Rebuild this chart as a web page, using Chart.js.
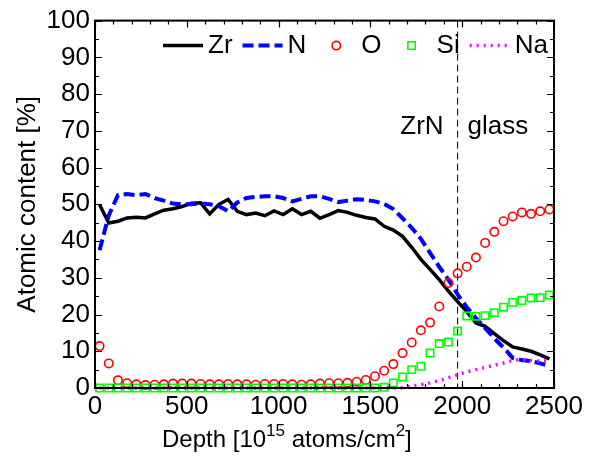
<!DOCTYPE html>
<html>
<head>
<meta charset="utf-8">
<script src="https://cdn.jsdelivr.net/npm/chart.js@4.4.0/dist/chart.umd.min.js"></script>
<style>
  html, body { margin: 0; padding: 0; background: #fff; }
  #wrap { width: 591px; height: 457px; }
</style>
</head>
<body>
<div id="wrap"><canvas id="chart" width="591" height="457"></canvas></div>
<script>
// depth in 1e15 atoms/cm2
const depth = [25, 75, 125, 175, 225, 275, 325, 375, 425, 475,
  525, 575, 625, 675, 725, 775, 825, 875, 925, 975,
  1025, 1075, 1125, 1175, 1225, 1275, 1325, 1375, 1425, 1475,
  1525, 1575, 1625, 1675, 1725, 1775, 1825, 1875, 1925, 1975,
  2025, 2075, 2125, 2175, 2225, 2275, 2325, 2375, 2425, 2475];

const zr = [49.9, 44.9, 45.4, 46.3, 46.5, 46.3, 47.4, 48.4, 48.8, 49.4,
  50.3, 50.4, 47.4, 50.0, 51.3, 48.1, 47.2, 47.6, 46.9, 48.2,
  47.2, 48.8, 47.2, 48.1, 46.2, 47.2, 48.3, 47.8, 47.0, 46.4,
  46.0, 44.0, 43.0, 41.3, 38.3, 35.0, 32.3, 29.5, 26.4, 23.5,
  20.8, 17.7, 16.8, 14.8, 12.9, 11.2, 10.6, 10.0, 9.0, 7.9];

const n = [37.5, 47.0, 52.5, 52.8, 52.5, 52.8, 51.7, 51.0, 50.2, 50.0,
  50.0, 50.2, 50.0, 49.5, 48.1, 50.5, 51.7, 52.0, 52.2, 52.2,
  51.7, 50.8, 51.5, 52.2, 52.2, 51.5, 50.6, 51.0, 51.4, 51.2,
  50.8, 50.1, 48.7, 46.2, 43.6, 40.6, 36.8, 33.0, 29.5, 25.5,
  22.0, 19.0, 16.3, 13.5, 11.0, 8.2, 7.6, 7.3, 6.7, 6.0];

const o = [11.4, 6.7, 2.1, 1.3, 1.0, 0.8, 0.9, 1.0, 1.2, 1.2,
  1.2, 1.1, 1.0, 1.0, 1.1, 1.0, 1.0, 0.9, 1.1, 1.1,
  1.1, 1.0, 0.9, 1.0, 1.2, 1.3, 1.3, 1.4, 1.7, 2.2,
  3.2, 4.7, 6.5, 9.5, 12.4, 15.7, 17.8, 22.2, 28.6, 31.2,
  33.0, 35.5, 39.5, 42.5, 45.4, 46.7, 47.8, 47.4, 48.1, 48.6];

const si = [0, 0, 0, 0, 0, 0, 0, 0, 0, 0,
  0, 0, 0, 0, 0, 0, 0, 0, 0, 0,
  0, 0, 0, 0, 0, 0, 0, 0, 0, 0,
  0, 0.2, 1.4, 3.0, 5.0, 5.9, 9.5, 12.1, 12.5, 15.5,
  19.6, 19.5, 19.7, 20.5, 22.0, 23.3, 23.8, 24.5, 24.6, 25.3];

const na = [0, 0, 0, 0, 0, 0, 0, 0, 0, 0,
  0, 0, 0, 0, 0, 0, 0, 0, 0, 0,
  0, 0, 0, 0, 0, 0, 0, 0, 0, 0,
  0, 0, 0, 0.1, 0.5, 0.9, 1.4, 2.0, 2.8, 3.6,
  4.4, 5.0, 5.6, 6.2, 6.8, 7.5, 7.8, 7.5, 7.3, 7.5];

const xTickVals = [0, 500, 1000, 1500, 2000, 2500];
const yTickVals = [0, 10, 20, 30, 40, 50, 60, 70, 80, 90, 100];
const interfaceDepth = 1975;

const FONT = "'Liberation Sans', Arial, Helvetica, sans-serif";
const pts = (arr) => arr.map((v, i) => ({ x: depth[i], y: v }));

const lineSet = (label, data, color, width, dash, order) => ({
  label, data: pts(data), borderColor: color, borderWidth: width, borderDash: dash,
  pointRadius: 0, fill: false, tension: 0, clip: false, order
});
const markSet = (label, data, color, style, radius, order) => ({
  label, data: pts(data), showLine: false, pointStyle: style, pointRadius: radius,
  pointBorderColor: color, pointBackgroundColor: 'rgba(0,0,0,0)', pointBorderWidth: 1.6,
  borderColor: color, clip: false, order
});

// frame, inward ticks, interface marker, legend, x title
const decor = {
  id: 'decor',
  beforeDatasetsDraw(chart) {
    const { ctx, chartArea: a, scales: { x, y } } = chart;
    const bx = x.getPixelForValue(interfaceDepth);
    ctx.save();
    ctx.strokeStyle = '#000';
    ctx.lineWidth = 1;
    ctx.setLineDash([7, 4]);
    ctx.beginPath();
    ctx.moveTo(bx, a.top);
    ctx.lineTo(bx, a.bottom);
    ctx.stroke();
    ctx.setLineDash([]);
    ctx.fillStyle = '#000';
    ctx.font = '26px ' + FONT;
    ctx.textBaseline = 'alphabetic';
    const ly = y.getPixelForValue(69);
    ctx.textAlign = 'right';
    ctx.fillText('ZrN', bx - 14, ly);
    ctx.textAlign = 'left';
    ctx.fillText('glass', bx + 10, ly);
    ctx.restore();
  },
  afterDatasetsDraw(chart) {
    const { ctx, chartArea: a, scales: { x, y } } = chart;
    ctx.save();
    ctx.strokeStyle = '#000';
    ctx.lineWidth = 2;
    ctx.strokeRect(a.left, a.top, a.right - a.left, a.bottom - a.top);
    ctx.lineWidth = 1.2;
    ctx.beginPath();
    for (let v = 0; v <= 2500; v += 100) {
      const px = Math.round(x.getPixelForValue(v)) + 0.5;
      const len = v % 500 === 0 ? 7 : 4;
      ctx.moveTo(px, a.bottom); ctx.lineTo(px, a.bottom - len);
      ctx.moveTo(px, a.top); ctx.lineTo(px, a.top + len);
    }
    for (let v = 0; v <= 100; v += 5) {
      const py = Math.round(y.getPixelForValue(v)) + 0.5;
      const len = v % 10 === 0 ? 7 : 4;
      ctx.moveTo(a.left, py); ctx.lineTo(a.left + len, py);
      ctx.moveTo(a.right, py); ctx.lineTo(a.right - len, py);
    }
    ctx.stroke();
    ctx.restore();
  },
  afterDraw(chart) {
    const { ctx, chartArea: a } = chart;
    ctx.save();
    ctx.font = '26px ' + FONT;
    ctx.fillStyle = '#000';
    ctx.textBaseline = 'middle';
    ctx.textAlign = 'left';
    const ly = a.top + 25;
    let lx = a.left + 68;
    // legend in plotting order
    const byOrder = chart.data.datasets.slice().sort((p, q) => q.order - p.order);
    byOrder.forEach(ds => {
      ctx.save();
      if (ds.showLine === false) {
        ctx.fillStyle = 'rgba(0,0,0,0)';
        ctx.strokeStyle = ds.pointBorderColor;
        ctx.lineWidth = ds.pointBorderWidth;
        Chart.helpers.drawPoint(ctx, {
          pointStyle: ds.pointStyle, radius: ds.pointRadius, borderWidth: ds.pointBorderWidth, rotation: 0
        }, lx + 20, ly);
      } else {
        ctx.strokeStyle = ds.borderColor;
        ctx.lineWidth = ds.borderWidth;
        ctx.setLineDash(ds.borderDash || []);
        ctx.beginPath();
        ctx.moveTo(lx, ly);
        ctx.lineTo(lx + 40, ly);
        ctx.stroke();
      }
      ctx.restore();
      ctx.fillText(ds.label, lx + 45, ly);
      lx += 45 + ctx.measureText(ds.label).width + 10;
    });

    // x axis title with superscripts
    const parts = [['Depth [10', 0], ['15', 1], [' atoms/cm', 0], ['2', 1], [']', 0]];
    let tx = a.left + 67;
    const base = 447;
    ctx.textBaseline = 'alphabetic';
    parts.forEach(([t, sup]) => {
      ctx.font = (sup ? '17px ' : '24px ') + FONT;
      ctx.fillText(t, tx, sup ? base - 11 : base);
      tx += ctx.measureText(t).width;
    });
    ctx.restore();
  }
};

const tickFont = { family: FONT, size: 26 };

new Chart(document.getElementById('chart'), {
  type: 'line',
  data: {
    datasets: [
      lineSet('Zr', zr, '#000000', 3.5, [], 5),
      lineSet('N', n, '#0000ff', 4, [11, 5], 4),
      markSet('O', o, '#ff0000', 'circle', 4.2, 3),
      markSet('Si', si, '#00ff00', 'rect', 5.2, 2),
      lineSet('Na', na, '#ff00ff', 3.5, [2, 5], 1)
    ]
  },
  options: {
    responsive: false,
    animation: false,
    devicePixelRatio: 1,
    layout: { padding: { top: 18, right: 37, left: 0, bottom: 0 } },
    plugins: { legend: { display: false }, tooltip: { enabled: false } },
    scales: {
      x: {
        type: 'linear', min: 0, max: 2500,
        afterBuildTicks: s => { s.ticks = xTickVals.map(v => ({ value: v })); },
        afterFit: s => { s.height = 69; },
        ticks: { font: tickFont, color: '#000', padding: 3, maxRotation: 0, autoSkip: false, callback: v => String(v) },
        grid: { display: false, drawTicks: false },
        border: { display: false }
      },
      y: {
        type: 'linear', min: 0, max: 100,
        afterBuildTicks: s => { s.ticks = yTickVals.map(v => ({ value: v })); },
        afterFit: s => { s.width = 95; },
        ticks: { font: tickFont, color: '#000', padding: 5, autoSkip: false, callback: v => String(v) },
        grid: { display: false, drawTicks: false },
        border: { display: false },
        title: { display: true, text: 'Atomic content [%]', font: tickFont, color: '#000', padding: { top: 12, bottom: 0 } }
      }
    }
  },
  plugins: [decor]
});
</script>
</body>
</html>
